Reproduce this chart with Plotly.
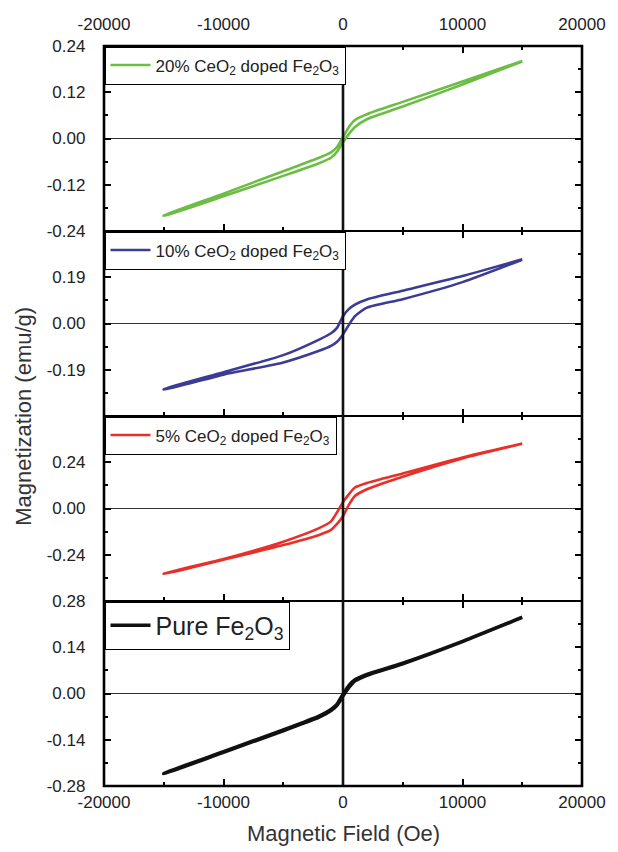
import plotly.graph_objects as go
from plotly.subplots import make_subplots

# Field points (Oe)
field = [-15000, -10000, -5000, -2000, -1000, -500, 0, 500, 1000, 2000, 5000, 10000, 15000]

# Magnetization (emu/g): upper branch (field decreasing) and lower branch (field increasing)
ceo20_up = [-0.200, -0.143, -0.085, -0.050, -0.036, -0.022, 0.004, 0.030, 0.048, 0.063, 0.095, 0.148, 0.201]
ceo20_low = [-0.201, -0.150, -0.097, -0.064, -0.050, -0.034, -0.010, 0.012, 0.030, 0.050, 0.083, 0.140, 0.200]

ceo10_up = [-0.270, -0.200, -0.130, -0.066, -0.040, -0.018, 0.030, 0.060, 0.078, 0.099, 0.135, 0.195, 0.264]
ceo10_low = [-0.272, -0.210, -0.160, -0.112, -0.092, -0.075, -0.045, -0.005, 0.030, 0.065, 0.100, 0.170, 0.262]

ceo5_up = [-0.338, -0.262, -0.172, -0.102, -0.067, -0.020, 0.033, 0.075, 0.109, 0.132, 0.182, 0.265, 0.337]
ceo5_low = [-0.340, -0.266, -0.190, -0.137, -0.111, -0.080, -0.040, 0.020, 0.065, 0.100, 0.165, 0.260, 0.336]

pure_up = [-0.242, -0.176, -0.110, -0.068, -0.048, -0.032, -0.002, 0.025, 0.042, 0.058, 0.092, 0.158, 0.231]
pure_low = [-0.243, -0.178, -0.113, -0.072, -0.052, -0.036, -0.008, 0.018, 0.038, 0.055, 0.090, 0.157, 0.230]

names = ["20% CeO<sub>2</sub> doped Fe<sub>2</sub>O<sub>3</sub>",
         "10% CeO<sub>2</sub> doped Fe<sub>2</sub>O<sub>3</sub>",
         "5% CeO<sub>2</sub> doped Fe<sub>2</sub>O<sub>3</sub>",
         "Pure Fe<sub>2</sub>O<sub>3</sub>"]
colors = ["#6cbd45", "#3c3c96", "#e8302a", "#111111"]
branches = [(ceo20_up, ceo20_low), (ceo10_up, ceo10_low), (ceo5_up, ceo5_low), (pure_up, pure_low)]

y_ranges = [[-0.24, 0.24], [-0.38, 0.38], [-0.48, 0.48], [-0.28, 0.28]]
y_tickvals = [[-0.24, -0.12, 0, 0.12, 0.24], [-0.38, -0.19, 0, 0.19, 0.38],
              [-0.48, -0.24, 0, 0.24, 0.48], [-0.28, -0.14, 0, 0.14, 0.28]]
y_ticktext = [["-0.24", "-0.12", "0.00", "0.12", "0.24"], ["", "-0.19", "0.00", "0.19", ""],
              ["", "-0.24", "0.00", "0.24", ""], ["-0.28", "-0.14", "0.00", "0.14", "0.28"]]
y_minor = [0.06, 0.095, 0.12, 0.07]

x_tickvals = [-20000, -10000, 0, 10000, 20000]
x_ticktext = ["-20000", "-10000", "0", "10000", "20000"]

fig = make_subplots(rows=4, cols=1, shared_xaxes=True, vertical_spacing=0)

legend_ids = ["legend", "legend2", "legend3", "legend4"]
for i in range(4):
    up, low = branches[i]
    xs = field[::-1] + field
    ys = up[::-1] + low
    fig.add_trace(go.Scatter(x=xs, y=ys, mode="lines", name=names[i],
                             line=dict(color=colors[i], width=2.6 if i < 3 else 3.4,
                                       shape="spline", smoothing=0.6),
                             legend=legend_ids[i], showlegend=True),
                  row=i + 1, col=1)

font_family = "Arial, Liberation Sans, sans-serif"
for i in range(4):
    fig.update_yaxes(range=y_ranges[i], tickvals=y_tickvals[i], ticktext=y_ticktext[i],
                     ticks="inside", ticklen=7, tickwidth=2, tickcolor="black",
                     minor=dict(dtick=y_minor[i], tick0=0, ticks="inside", ticklen=4,
                                tickwidth=2, tickcolor="black"),
                     showline=True, linewidth=1.3, linecolor="black", mirror="ticks",
                     zeroline=True, zerolinewidth=1.2, zerolinecolor="#333333",
                     showgrid=False, tickfont=dict(size=17, color="#222222"),
                     ticklabelstandoff=14,
                     row=i + 1, col=1)
    fig.update_xaxes(range=[-20000, 20000], tickvals=x_tickvals, ticktext=x_ticktext,
                     ticks="inside", ticklen=7, tickwidth=2, tickcolor="black",
                     minor=dict(dtick=5000, tick0=0, ticks="inside", ticklen=4,
                                tickwidth=2, tickcolor="black"),
                     showline=True, linewidth=1.3, linecolor="black", mirror="ticks",
                     zeroline=False,
                     showgrid=False, tickfont=dict(size=17, color="#222222"),
                     showticklabels=(i == 0 or i == 3),
                     row=i + 1, col=1)
fig.update_xaxes(side="top", ticklabelstandoff=8, row=1, col=1)
fig.add_vline(x=0, line=dict(color="#111111", width=2.6), row="all", col=1)
# outer frame
fig.add_shape(type="rect", xref="paper", yref="paper", x0=0, x1=1, y0=0, y1=1,
              line=dict(color="black", width=2.6), fillcolor="rgba(0,0,0,0)", layer="above")

legend_y = [1.0, 0.75, 0.5, 0.25]
leg_common = dict(x=0, xanchor="left", yanchor="top", bgcolor="white",
                  bordercolor="black", borderwidth=1.5, itemwidth=40,
                  tracegroupgap=0)
fig.update_layout(
    legend=dict(y=legend_y[0], font=dict(size=17, color="#222", family=font_family), **leg_common),
    legend2=dict(y=legend_y[1], font=dict(size=17, color="#222", family=font_family), **leg_common),
    legend3=dict(y=legend_y[2], font=dict(size=17, color="#222", family=font_family), **leg_common),
    legend4=dict(y=legend_y[3], font=dict(size=25, color="#222", family=font_family), **leg_common),
)

fig.add_annotation(text="Magnetic Field (Oe)", xref="paper", yref="paper", x=0.5, y=-0.064,
                   xanchor="center", yanchor="middle", showarrow=False,
                   font=dict(size=22, color="#333333", family=font_family))
fig.add_annotation(text="Magnetization (emu/g)", xref="paper", yref="paper", x=-0.17, y=0.5,
                   xanchor="center", yanchor="middle", textangle=-90, showarrow=False,
                   font=dict(size=22, color="#333333", family=font_family))

fig.update_layout(width=618, height=852, margin=dict(l=104, r=29, t=46, b=66),
                  paper_bgcolor="white", plot_bgcolor="white",
                  font=dict(family=font_family, color="#222222"))

fig.write_html("out.html")
